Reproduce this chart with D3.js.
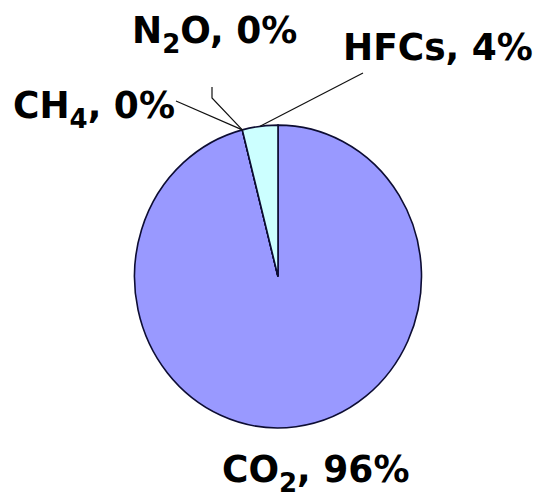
<!DOCTYPE html>
<html><head><meta charset="utf-8">
<script src="https://cdn.jsdelivr.net/npm/d3@7"></script>
<style>html,body{margin:0;padding:0;background:#fff;}svg{display:block;}</style>
</head><body>
<svg id="chart" width="536" height="497"></svg>
<script>
// Data
const categories = ["CO2", "CH4", "N2O", "HFCs"];
const values = [96, 0, 0, 4];
const labelMain = ["CO", "CH", "N", "HFCs"];
const labelSub = ["2", "4", "2", ""];
const labelTail = ["", "", "O", ""];
const percentLabels = ["96%", "0%", "0%", "4%"];

// Layout / style
const colors = ["#9999FF", "#9999FF", "#9999FF", "#CCFFFF"];
const cx = 278, cy = 276.5, r = 143.5, sy = 1.055;
const labelPos = [[222, 482], [13, 118], [132, 43], [343, 60]];
const leaderStart = [null, [176, 101], [212, 87], [363, 73]];
const leaderElbow = [null, null, [212, 98], null];

const svg = d3.select("#chart");
const pie = d3.pie().sort(null).value(d => d)(values);
const arc = d3.arc().innerRadius(0).outerRadius(r);

const g = svg.append("g").attr("transform", `translate(${cx},${cy}) scale(1,${sy})`);
g.selectAll("path").data(pie).join("path")
  .attr("d", arc)
  .attr("fill", (d, i) => colors[i])
  .attr("stroke", "#0d0d33")
  .attr("stroke-width", 1.6)
  .attr("vector-effect", "non-scaling-stroke");

// anchor points on edge
function edgePoint(d) {
  const a = (d.startAngle + d.endAngle) / 2;
  return [cx + r * Math.sin(a), cy - r * sy * Math.cos(a)];
}

pie.forEach((d, i) => {
  if (!leaderStart[i]) return;
  const pts = [leaderStart[i]];
  if (leaderElbow[i]) pts.push(leaderElbow[i]);
  pts.push(edgePoint(d));
  svg.append("path")
    .attr("d", d3.line()(pts))
    .attr("fill", "none")
    .attr("stroke", "#111")
    .attr("stroke-width", 1.2);
});

categories.forEach((c, i) => {
  const t = svg.append("g")
    .attr("transform", `translate(${labelPos[i][0]},${labelPos[i][1]}) scale(1,${sy})`)
    .append("text")
    .attr("x", 0).attr("y", 0)
    .attr("font-family", "DejaVu Sans, Verdana, sans-serif")
    .attr("font-weight", "bold")
    .attr("font-size", 36)
    .attr("fill", "#000");
  t.append("tspan").text(labelMain[i]);
  if (labelSub[i]) {
    t.append("tspan").attr("font-size", 26).attr("dy", 9).text(labelSub[i]);
    t.append("tspan").attr("dy", -9).text(labelTail[i] + ", " + percentLabels[i]);
  } else {
    t.append("tspan").text(", " + percentLabels[i]);
  }
});
</script>
</body></html>
